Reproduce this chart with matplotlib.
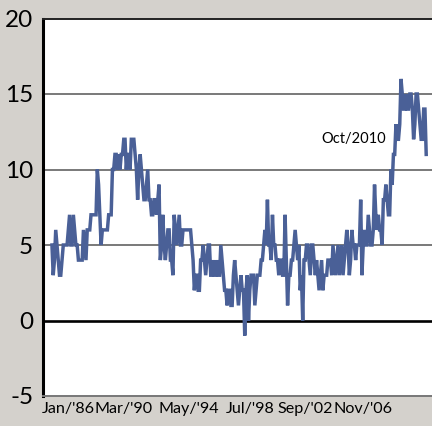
import matplotlib
matplotlib.use("Agg")
import matplotlib.pyplot as plt
import numpy as np

# Monthly values, Jan 1986 .. Oct 2010
y1986 = [5, 3, 4, 6, 5, 4, 3, 3, 4, 5, 5, 5]
y1987 = [5, 6, 7, 5, 5, 7, 6, 5, 5, 4, 4, 4]
y1988 = [4, 6, 5, 4, 6, 6, 6, 7, 7, 7, 7, 7]
y1989 = [10, 9, 7, 5, 6, 6, 6, 6, 6, 7, 7, 7]
y1990 = [10, 10, 11, 11, 10, 11, 10, 11, 11, 12, 12, 10]
y1991 = [11, 11, 10, 12, 12, 12, 11, 10, 8, 10, 11, 10]
y1992 = [9, 8, 8, 9, 10, 8, 8, 7, 7, 8, 8, 7]
y1993 = [8, 9, 4, 5, 7, 5, 4, 5, 6, 6, 4, 4]
y1994 = [3, 7, 6, 5, 6, 7, 5, 5, 6, 6, 6, 6]
y1995 = [6, 6, 6, 5, 4, 2, 3, 3, 2, 2, 4, 4]
y1996 = [5, 4, 3, 4, 5, 5, 3, 3, 4, 3, 3, 4]
y1997 = [3, 3, 5, 4, 3, 2, 2, 1, 2, 2, 1, 1]
y1998 = [3, 4, 3, 2, 1, 2, 3, 2, 2, -1, 2, 3]
y1999 = [0, 2, 3, 3, 3, 1, 2, 3, 3, 3, 4, 4]
y2000 = [5, 6, 5, 8, 5, 5, 4, 7, 5, 5, 4, 4]
y2001 = [3, 4, 4, 3, 3, 7, 4, 1, 3, 3, 4, 4]
y2002 = [5, 6, 5, 4, 5, 2, 3, 0, 4, 4, 5, 5]
y2003 = [4, 3, 5, 5, 4, 3, 4, 3, 2, 3, 4, 2]
y2004 = [3, 3, 3, 4, 4, 4, 3, 5, 4, 3, 4, 5]
y2005 = [3, 4, 5, 3, 4, 5, 6, 5, 3, 4, 6, 5]
y2006 = [5, 4, 5, 5, 5, 8, 3, 5, 6, 5, 5, 7]
y2007 = [6, 5, 5, 6, 9, 7, 6, 7, 6, 6, 5, 8]
y2008 = [8, 9, 8, 7, 7, 10, 9, 11, 11, 13, 12, 12]
y2009 = [13, 16, 15, 14, 14, 15, 14, 14, 15, 15, 14, 12]
y2010 = [13, 15, 15, 14, 13, 12, 12, 14, 14, 11]

values = (y1986 + y1987 + y1988 + y1989 + y1990 + y1991 + y1992 + y1993 +
          y1994 + y1995 + y1996 + y1997 + y1998 + y1999 + y2000 + y2001 +
          y2002 + y2003 + y2004 + y2005 + y2006 + y2007 + y2008 + y2009 + y2010)

x_labels = ["Jan/'86", "Mar/'90", "May/'94", "Jul/'98", "Sep/'02", "Nov/'06"]
y_ticks = [-5, 0, 5, 10, 15, 20]
annotation = "Oct/2010"

FONT = ["Lato", "DejaVu Sans"]
plt.rcParams['font.family'] = FONT

bg = "#d4d1cc"
line_color = "#4a6097"

fig = plt.figure(figsize=(4.32, 4.26), dpi=100, facecolor=bg)
ax = fig.add_axes([43/432, 1 - 396/426, 1 - 43/432, (396 - 18.5)/426])
ax.set_facecolor("white")

months = np.arange(len(values))
ax.plot(months, values, color=line_color, lw=2.5, solid_joinstyle="miter", zorder=3)

ax.set_xlim(-7.1, 301.6)
ax.set_ylim(-5, 20)

# gridlines
for g in [5, 10, 15]:
    ax.axhline(g, color="#555555", lw=1.1, zorder=1)
ax.axhline(0, color="black", lw=1.9, zorder=2)

ax.set_yticks(y_ticks)
ax.set_yticklabels([str(v) for v in y_ticks], fontsize=17.5)
ax.set_xticks([12.7, 57, 109, 157, 201, 247])
ax.set_xticklabels(x_labels, fontsize=11.6)
ax.tick_params(axis="both", length=0, colors="black")
ax.tick_params(axis="y", pad=7)
ax.tick_params(axis="x", pad=4.5)

ax.spines["right"].set_visible(False)
ax.spines["left"].set_linewidth(2.2)
ax.spines["left"].set_color("black")
ax.spines["top"].set_linewidth(1.4)
ax.spines["top"].set_color("#222222")
ax.spines["bottom"].set_linewidth(1.4)
ax.spines["bottom"].set_color("#777777")

ax.text(len(values) - 33, 12.0, annotation, ha="right", va="center", fontsize=10.5)

fig.savefig("out.png", dpi=100, facecolor=bg)
